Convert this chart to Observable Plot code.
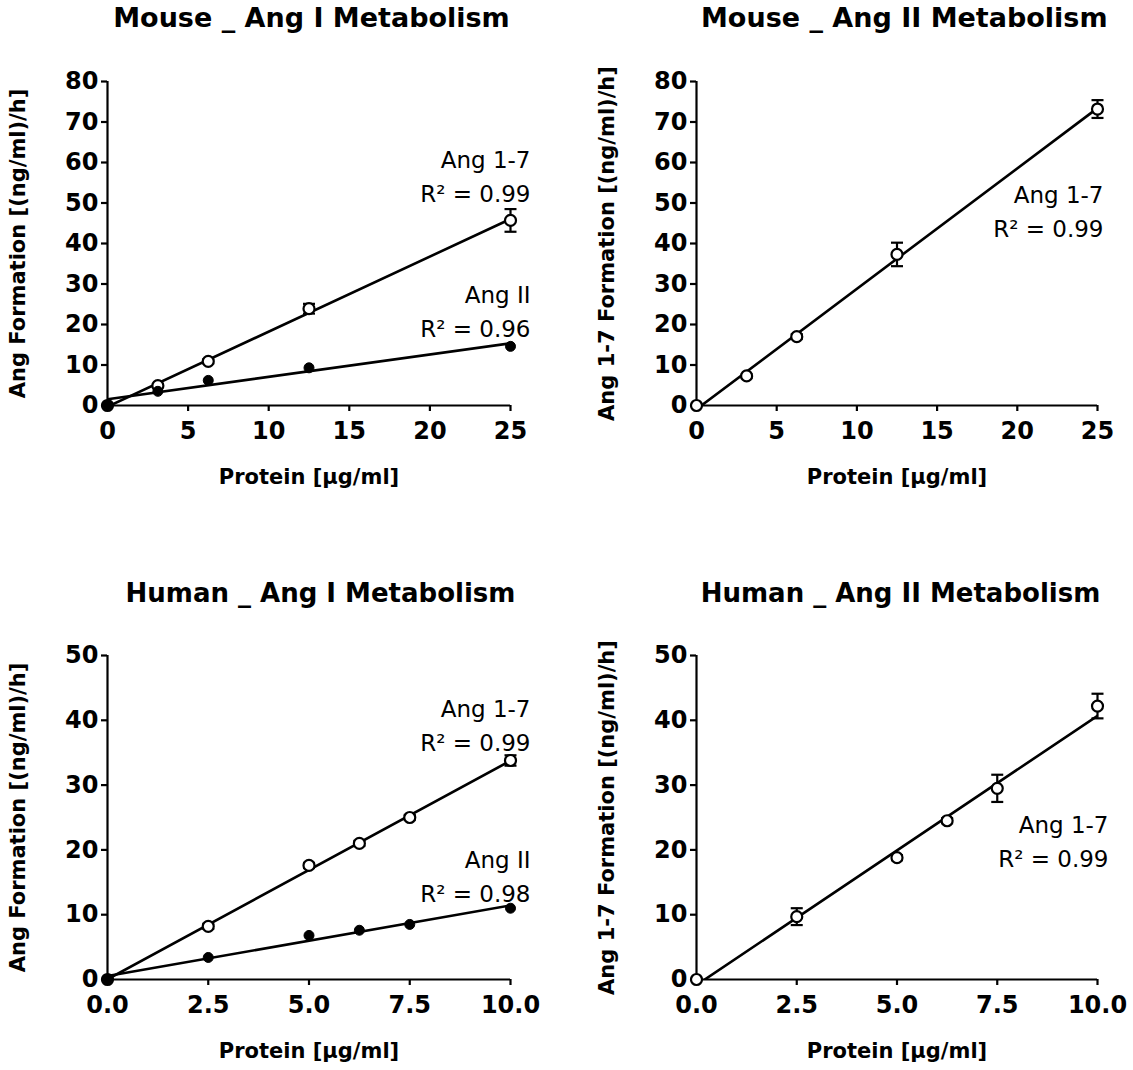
<!DOCTYPE html>
<html>
<head>
<meta charset="utf-8">
<script src="https://cdn.jsdelivr.net/npm/d3@7"></script>
<script src="https://cdn.jsdelivr.net/npm/@observablehq/plot@0.6"></script>
<style>
  html, body { margin: 0; padding: 0; background: #fff; }
  #root { position: relative; width: 1133px; height: 1070px; overflow: hidden; background: #fff; font-family: "DejaVu Sans", sans-serif; }
  .title { position: absolute; text-align: center; font-weight: bold; font-size: 27px; line-height: 36px; color: #000; white-space: nowrap; }
  .panel { position: absolute; }
</style>
</head>
<body>
<div id="root"></div>
<script>
// ---------------- data ----------------
const panelTitles = ["Mouse _ Ang I Metabolism", "Mouse _ Ang II Metabolism", "Human _ Ang I Metabolism", "Human _ Ang II Metabolism"];
const xTitle = "Protein [µg/ml]";
const yTitleAngI = "Ang Formation [(ng/ml)/h]";
const yTitleAngII = "Ang 1-7 Formation [(ng/ml)/h]";

const mouseProtein = [0, 3.125, 6.25, 12.5, 25];
const mouseAngI_Ang17 = [0, 4.9, 10.9, 23.9, 45.7];
const mouseAngI_Ang17Err = [0, 0.4, 0.5, 1.2, 2.8];
const mouseAngI_AngII = [0, 3.5, 6.2, 9.3, 14.6];
const mouseAngI_AngIIErr = [0, 0, 0, 0, 0];
const mouseAngII_Ang17 = [0, 7.3, 17.0, 37.3, 73.2];
const mouseAngII_Ang17Err = [0, 0.4, 0.6, 2.9, 2.2];

const humanProtein = [0, 2.5, 5, 6.25, 7.5, 10];
const humanAngI_Ang17 = [0, 8.2, 17.6, 21.0, 25.0, 33.8];
const humanAngI_Ang17Err = [0, 0.4, 0.4, 0.4, 0.4, 0.8];
const humanAngI_AngII = [0, 3.4, 6.8, 7.6, 8.5, 11.0];
const humanAngI_AngIIErr = [0, 0, 0, 0, 0, 0];
const humanAngII_Ang17 = [0, 9.7, 18.8, 24.5, 29.5, 42.2];
const humanAngII_Ang17Err = [0, 1.3, 0.4, 0.4, 2.1, 1.9];

const mouseXTicks = [0, 5, 10, 15, 20, 25];
const humanXTicks = [0, 2.5, 5, 7.5, 10];
const mouseYTicks = [0, 10, 20, 30, 40, 50, 60, 70, 80];
const humanYTicks = [0, 10, 20, 30, 40, 50];

const labelAng17_mouseI = "Ang 1-7\nR² = 0.99";
const labelAngII_mouseI = "Ang II\nR² = 0.96";
const labelAng17_mouseII = "Ang 1-7\nR² = 0.99";
const labelAng17_humanI = "Ang 1-7\nR² = 0.99";
const labelAngII_humanI = "Ang II\nR² = 0.98";
const labelAng17_humanII = "Ang 1-7\nR² = 0.99";

// ---------------- helpers ----------------
function rows(protein, values, errs, series, open) {
  return protein.map((p, i) => ({protein: p, value: values[i], err: errs[i], series, open}));
}
const capSymbol = {
  draw(ctx) { ctx.moveTo(-6, 0); ctx.lineTo(6, 0); }
};

function makePanel(cfg) {
  const data = cfg.series.flat();
  const withErr = data.filter(d => d.err > 0);
  const fmt = cfg.xFormat || (d => String(d));
  const marks = [
    Plot.linearRegressionY(data, {x: "protein", y: "value", z: "series", stroke: "black", strokeWidth: 2.6, ci: 0, clip: true}),
    Plot.ruleX([0], {stroke: "black", strokeWidth: 2.2}),
    Plot.ruleY([0], {stroke: "black", strokeWidth: 2.2}),
    Plot.axisX(cfg.xTicks, {tickSize: 6, tickPadding: 10, fontSize: 24, fontWeight: "bold", strokeWidth: 2.2, tickFormat: fmt, label: null}),
    Plot.axisY(cfg.yTicks, {tickSize: 6, tickPadding: 3, fontSize: 24, fontWeight: "bold", strokeWidth: 2.2, label: null}),
    Plot.ruleX(withErr, {x: "protein", y1: d => d.value - d.err, y2: d => d.value + d.err, stroke: "black", strokeWidth: 2.2}),
    Plot.dot(withErr, {x: "protein", y: d => d.value + d.err, symbol: capSymbol, fill: "none", stroke: "black", strokeWidth: 2.2}),
    Plot.dot(withErr, {x: "protein", y: d => d.value - d.err, symbol: capSymbol, fill: "none", stroke: "black", strokeWidth: 2.2}),
    Plot.dot(data.filter(d => d.open), {x: "protein", y: "value", r: 5.5, fill: "white", stroke: "black", strokeWidth: 2.2}),
    Plot.dot(data.filter(d => !d.open), {x: "protein", y: "value", r: 5, fill: "black", stroke: "black", strokeWidth: 1}),
    Plot.text([cfg.yTitle], {frameAnchor: "left", rotate: -90, textAnchor: "middle", lineAnchor: "middle", dx: -89, fontSize: 21, fontWeight: "bold", fill: "black"}),
    Plot.text([xTitle], {frameAnchor: "bottom", textAnchor: "middle", lineAnchor: "middle", dy: 72, fontSize: 21, fontWeight: "bold", fill: "black"})
  ];
  for (const a of cfg.annotations) {
    marks.push(Plot.text([a.text], {frameAnchor: "top-right", textAnchor: "end", lineAnchor: "top", lineHeight: 1.5, dx: a.dx, dy: a.dy, fontSize: 23, fill: "black"}));
  }
  const svg = Plot.plot({
    width: cfg.width,
    height: cfg.height,
    marginLeft: cfg.ml, marginRight: cfg.mr, marginTop: cfg.mt, marginBottom: cfg.mb,
    x: {domain: cfg.xDomain},
    y: {domain: cfg.yDomain},
    style: {fontFamily: "DejaVu Sans, sans-serif", color: "black", background: "transparent", overflow: "visible"},
    marks
  });
  const wrap = document.createElement("div");
  wrap.className = "panel";
  wrap.style.left = cfg.left + "px";
  wrap.style.top = cfg.top + "px";
  wrap.appendChild(svg);
  root.appendChild(wrap);

  const t = document.createElement("div");
  t.className = "title";
  t.textContent = cfg.title;
  t.style.left = (cfg.left + cfg.ml + cfg.titleShift) + "px";
  t.style.width = (cfg.width - cfg.ml - cfg.mr) + "px";
  t.style.top = cfg.titleTop + "px";
  if (cfg.titleSize) t.style.fontSize = cfg.titleSize + "px";
  root.appendChild(t);
}

const root = document.getElementById("root");

makePanel({
  title: panelTitles[0], titleTop: 0, titleShift: 3,
  left: 0, top: 40, width: 566, height: 480, ml: 107, mr: 56, mt: 41, mb: 115,
  xDomain: [0, 25], yDomain: [0, 80], xTicks: mouseXTicks, yTicks: mouseYTicks,
  yTitle: yTitleAngI,
  series: [
    rows(mouseProtein, mouseAngI_Ang17, mouseAngI_Ang17Err, "Ang 1-7", true),
    rows(mouseProtein, mouseAngI_AngII, mouseAngI_AngIIErr, "Ang II", false)
  ],
  annotations: [{text: labelAng17_mouseI, dx: 20, dy: 62}, {text: labelAngII_mouseI, dx: 20, dy: 197}]
});

makePanel({
  title: panelTitles[1], titleTop: 0, titleShift: 5,
  left: 566, top: 40, width: 567, height: 480, ml: 130, mr: 36, mt: 41, mb: 115,
  xDomain: [0, 25], yDomain: [0, 80], xTicks: mouseXTicks, yTicks: mouseYTicks,
  yTitle: yTitleAngII,
  series: [
    rows(mouseProtein, mouseAngII_Ang17, mouseAngII_Ang17Err, "Ang 1-7", true)
  ],
  annotations: [{text: labelAng17_mouseII, dx: 6, dy: 97}]
});

makePanel({
  title: panelTitles[2], titleTop: 575, titleShift: 12, titleSize: 26,
  left: 0, top: 613, width: 566, height: 457, ml: 107, mr: 56, mt: 42, mb: 91,
  xDomain: [0, 10], yDomain: [0, 50], xTicks: humanXTicks, yTicks: humanYTicks,
  xFormat: d => d.toFixed(1),
  yTitle: yTitleAngI,
  series: [
    rows(humanProtein, humanAngI_Ang17, humanAngI_Ang17Err, "Ang 1-7", true),
    rows(humanProtein, humanAngI_AngII, humanAngI_AngIIErr, "Ang II", false)
  ],
  annotations: [{text: labelAng17_humanI, dx: 20, dy: 37}, {text: labelAngII_humanI, dx: 20, dy: 188}]
});

makePanel({
  title: panelTitles[3], titleTop: 575, titleShift: 4, titleSize: 26,
  left: 566, top: 613, width: 567, height: 457, ml: 130, mr: 36, mt: 42, mb: 91,
  xDomain: [0, 10], yDomain: [0, 50], xTicks: humanXTicks, yTicks: humanYTicks,
  xFormat: d => d.toFixed(1),
  yTitle: yTitleAngII,
  series: [
    rows(humanProtein, humanAngII_Ang17, humanAngII_Ang17Err, "Ang 1-7", true)
  ],
  annotations: [{text: labelAng17_humanII, dx: 11, dy: 153}]
});
</script>
</body>
</html>
